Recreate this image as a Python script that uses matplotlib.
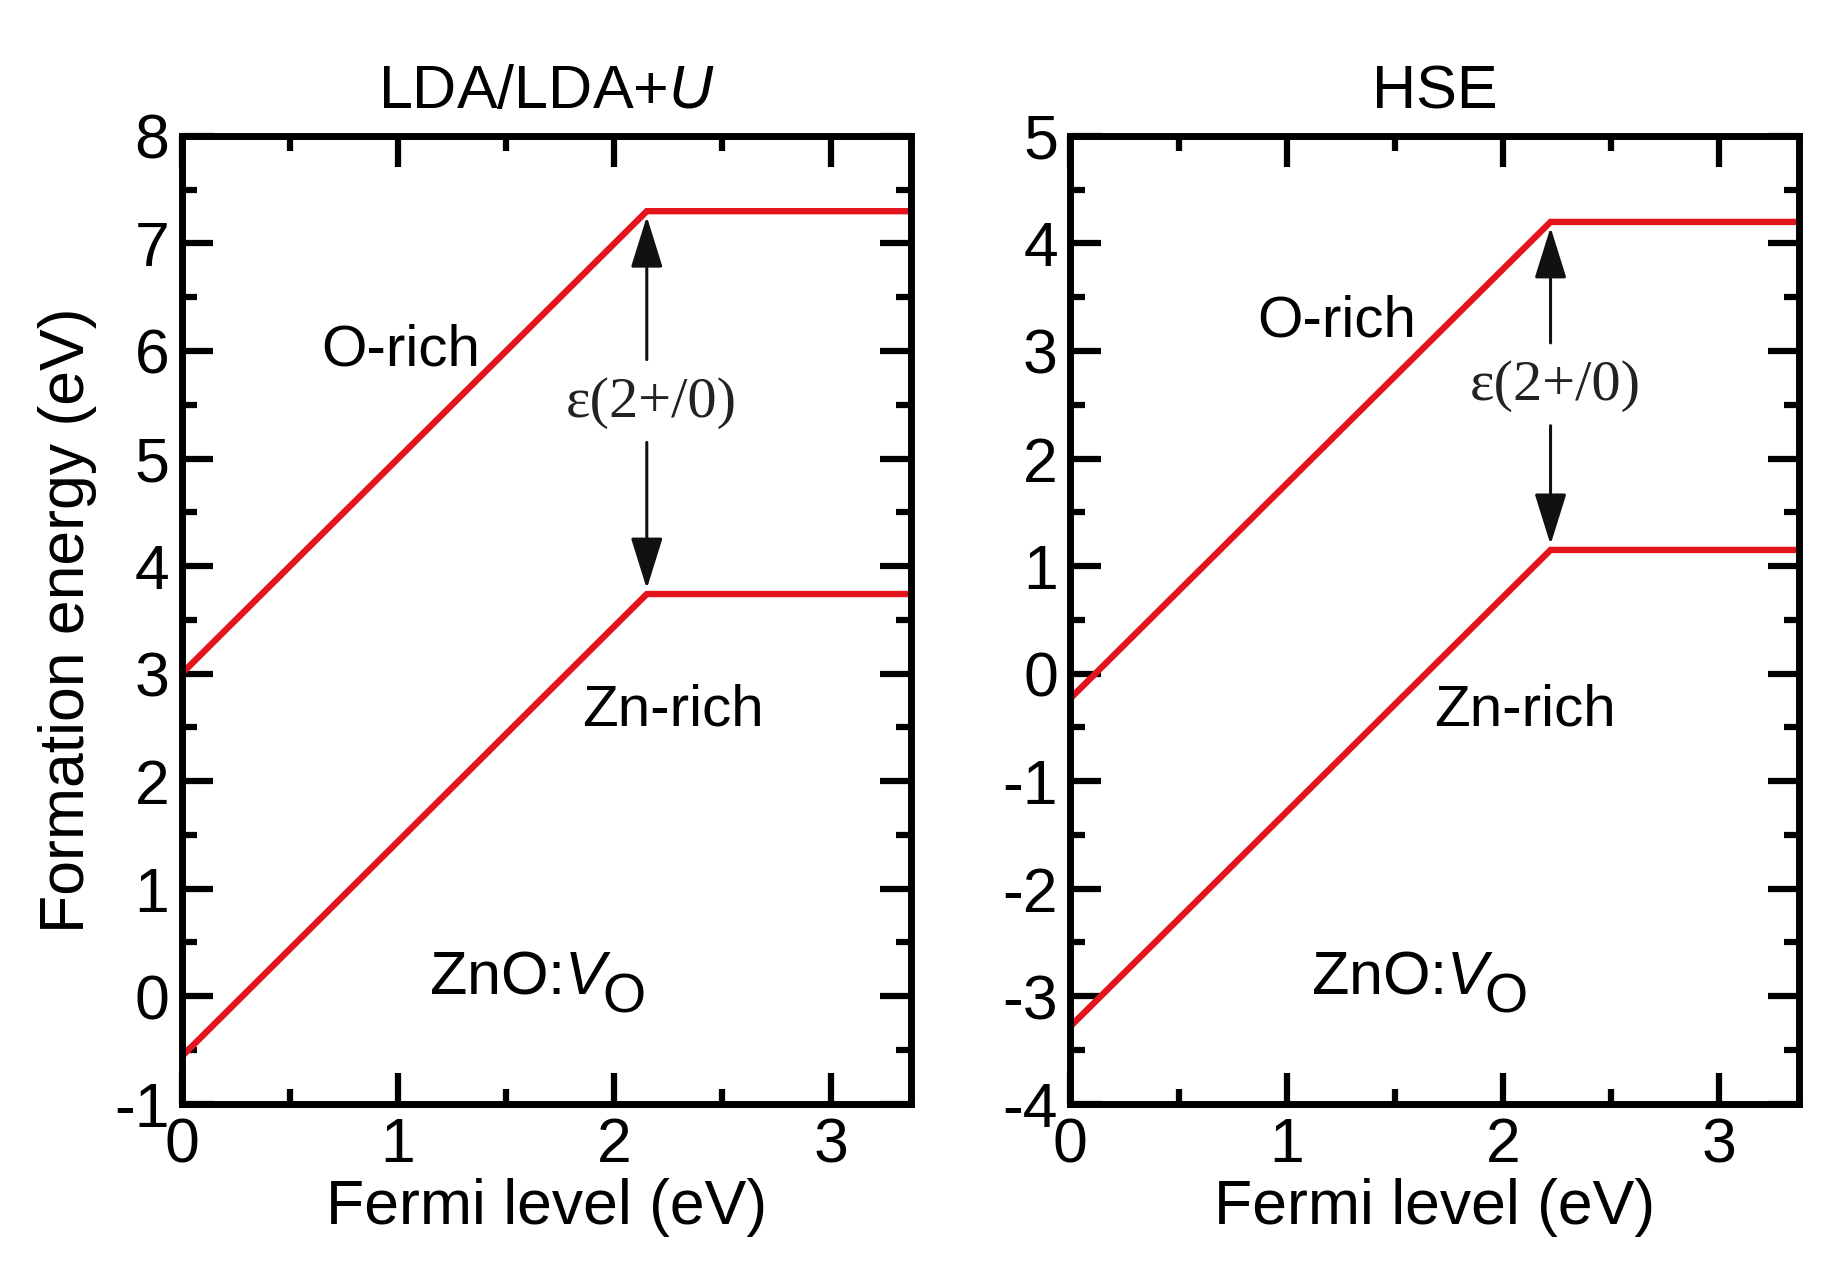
import matplotlib
matplotlib.use("Agg")
import matplotlib.pyplot as plt
from matplotlib.ticker import MultipleLocator

plt.rcParams['font.family'] = ['Liberation Sans Narrow', 'Liberation Sans', 'DejaVu Sans']
plt.rcParams['axes.unicode_minus'] = False
plt.rcParams['mathtext.fontset'] = 'custom'
plt.rcParams['mathtext.rm'] = 'Liberation Sans'
plt.rcParams['mathtext.it'] = 'Liberation Sans:italic'

# data
fermi_lda = [0.0, 2.15, 3.4]
orich_lda = [3.0, 7.3, 7.3]
znrich_lda = [-0.56, 3.74, 3.74]

fermi_hse = [0.0, 2.22, 3.4]
orich_hse = [-0.23, 4.2, 4.2]
znrich_hse = [-3.28, 1.15, 1.15]

titles = ['LDA/LDA+$U$', 'HSE']
ylims = [(-1, 8), (-4, 5)]
xmax = 3.37

red = '#e3141c'

fig = plt.figure(figsize=(18.36, 12.82), dpi=100)
ax1 = fig.add_axes([0.099, 0.139, 0.397, 0.755])
ax2 = fig.add_axes([0.583, 0.139, 0.397, 0.755])

panels = [
    (ax1, fermi_lda, orich_lda, znrich_lda),
    (ax2, fermi_hse, orich_hse, znrich_hse),
]

head = '-|>,head_length=1.6,head_width=0.5'

for i, (ax, fx, orich, znrich) in enumerate(panels):
    ax.plot(fx, orich, color=red, lw=4.6, solid_joinstyle='miter')
    ax.plot(fx, znrich, color=red, lw=4.6, solid_joinstyle='miter')
    ax.set_xlim(0, xmax)
    ax.set_ylim(*ylims[i])
    ax.xaxis.set_major_locator(MultipleLocator(1))
    ax.xaxis.set_minor_locator(MultipleLocator(0.5))
    ax.yaxis.set_major_locator(MultipleLocator(1))
    ax.yaxis.set_minor_locator(MultipleLocator(0.5))
    ax.tick_params(which='both', direction='in', top=True, right=True,
                   width=4.5, labelsize=45, pad=9)
    ax.tick_params(which='major', length=22)
    ax.tick_params(which='minor', length=11)
    for s in ax.spines.values():
        s.set_linewidth(5)
    ax.set_title(titles[i], fontsize=44, pad=20)
    ax.set_xlabel('Fermi level (eV)', fontsize=45, labelpad=2)

    # transition level arrow, label in the gap
    xk = fx[1]
    top = orich[1]
    bot = znrich[1]
    mid = (top + bot) / 2
    ax.annotate('', xy=(xk, top - 0.05), xytext=(xk, mid + 0.4),
                arrowprops=dict(arrowstyle=head, mutation_scale=20,
                                color='#111111', lw=2.2, shrinkA=0, shrinkB=0))
    ax.annotate('', xy=(xk, bot + 0.05), xytext=(xk, mid - 0.37),
                arrowprops=dict(arrowstyle=head, mutation_scale=20,
                                color='#111111', lw=2.2, shrinkA=0, shrinkB=0))
    ax.text(xk + 0.02, mid, '\u03b5(2+/0)', family='Liberation Serif',
            fontsize=42, ha='center', va='center', color='#222222')

ax1.set_ylabel('Formation energy (eV)', fontsize=45, labelpad=12)

ax1.text(1.01, 6.0, 'O-rich', fontsize=42, ha='center', va='center')
ax1.text(2.27, 2.66, 'Zn-rich', fontsize=42, ha='center', va='center')
ax2.text(1.23, 3.27, 'O-rich', fontsize=42, ha='center', va='center')
ax2.text(2.10, -0.34, 'Zn-rich', fontsize=42, ha='center', va='center')

# ZnO:V_O with a large, low subscript
label_pos = [(ax1, 1.99, 0.03), (ax2, 1.96, -2.97)]
for ax, x, y in label_pos:
    ax.text(x, y, 'ZnO:$V$', fontsize=44, ha='right', va='baseline')
    ax.annotate('O', xy=(x, y), xytext=(-7, -14), textcoords='offset points',
                fontsize=40, ha='left', va='baseline')

fig.savefig('out.png', dpi=100)
